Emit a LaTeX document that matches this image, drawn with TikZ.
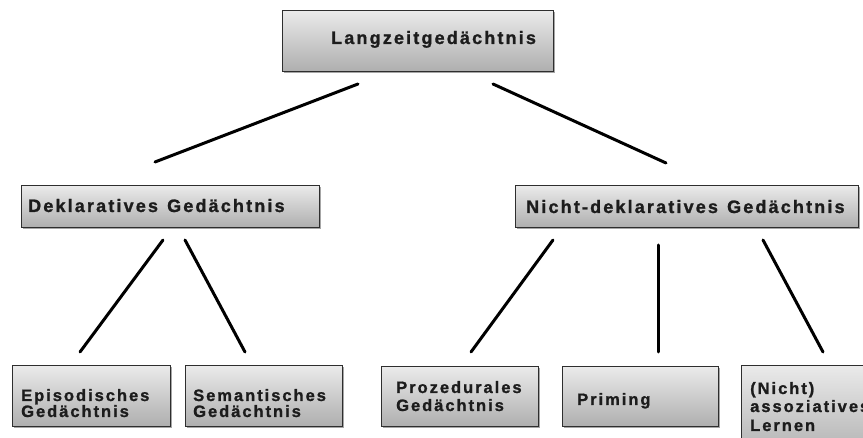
\documentclass[tikz,border=0pt]{standalone}
\usepackage{fontspec}
\newfontfamily\boxfont{Liberation Sans}[LetterSpace=12, FakeBold=1.2]
\usetikzlibrary{shadows}
\definecolor{boxtop}{HTML}{EAEAEA}
\definecolor{boxbot}{HTML}{AEAEAE}
\definecolor{boxline}{HTML}{2E2E2E}
\definecolor{ink}{HTML}{1C1C1C}
\tikzset{
  memorybox/.style={draw=boxline, line width=1.4pt, top color=boxtop, bottom color=boxbot,
    anchor=north west, inner sep=0pt,
    drop shadow={shadow xshift=1pt, shadow yshift=-1.5pt, opacity=0.35, fill=black}},
  bigtxt/.style={anchor=base west, inner sep=0pt, text=ink,
    font=\boxfont\bfseries\fontsize{18}{19}\selectfont},
  smalltxt/.style={anchor=base west, inner sep=0pt, text=ink,
    font=\boxfont\bfseries\fontsize{16.5}{17}\selectfont},
  branch/.style={draw=black, line width=3pt, line cap=round}
}
\begin{document}
\begin{tikzpicture}[x=1pt, y=-1pt]
  \useasboundingbox (0,0) rectangle (863,438);
  \clip (0,0) rectangle (863,438);

  % boxes: top level, second level, leaves
  \node[memorybox, minimum width=271pt, minimum height=61pt] (lzg)   at (282,10)  {};
  \node[memorybox, minimum width=298pt, minimum height=42pt] (dekl)  at (21,185)  {};
  \node[memorybox, minimum width=343pt, minimum height=42pt] (ndekl) at (515,185) {};
  \node[memorybox, minimum width=158pt, minimum height=61pt] (epi)   at (12,365)  {};
  \node[memorybox, minimum width=157pt, minimum height=61pt] (sem)   at (185,365) {};
  \node[memorybox, minimum width=157pt, minimum height=60pt] (proz)  at (381,366) {};
  \node[memorybox, minimum width=156pt, minimum height=60pt] (prim)  at (562,366) {};
  \node[memorybox, minimum width=160pt, minimum height=95pt] (assoz) at (741,365) {};

  % labels
  \node[bigtxt] (t-lzg)   at (331,44)  {Langzeitgedächtnis};
  \node[bigtxt] (t-dekl)  at (28,212)  {Deklaratives\hspace{2pt} Gedächtnis};
  \node[bigtxt] (t-ndekl) at (526,213) {Nicht-deklaratives\hspace{2pt} Gedächtnis};
  \node[smalltxt] (t-epi1)  at (21,401)  {Episodisches};
  \node[smalltxt] (t-epi2)  at (21,417)  {Gedächtnis};
  \node[smalltxt] (t-sem1)  at (193,401) {Semantisches};
  \node[smalltxt] (t-sem2)  at (193,417) {Gedächtnis};
  \node[smalltxt] (t-proz1) at (396,393) {Prozedurales};
  \node[smalltxt] (t-proz2) at (396,411) {Gedächtnis};
  \node[smalltxt] (t-prim)  at (577,405) {Priming};
  \node[smalltxt] (t-as1)   at (750,394) {(Nicht)};
  \node[smalltxt] (t-as2)   at (750,412) {assoziatives};
  \node[smalltxt] (t-as3)   at (750,431) {Lernen};

  % connector end points
  \coordinate (lzg-l)    at (358,84);
  \coordinate (lzg-r)    at (493,84);
  \coordinate (dekl-in)  at (155,162);
  \coordinate (ndekl-in) at (666,163);
  \coordinate (dekl-l)   at (163,240);
  \coordinate (dekl-r)   at (185,240);
  \coordinate (ndekl-l)  at (553,240);
  \coordinate (ndekl-m)  at (658,245);
  \coordinate (ndekl-r)  at (763,240);
  \coordinate (epi-in)   at (80,352);
  \coordinate (sem-in)   at (245,352);
  \coordinate (proz-in)  at (471,352);
  \coordinate (prim-in)  at (658,352);
  \coordinate (assoz-in) at (823,352);

  % connectors
  \draw[branch] (lzg-l) -- (dekl-in);
  \draw[branch] (lzg-r) -- (ndekl-in);
  \draw[branch] (dekl-l) -- (epi-in);
  \draw[branch] (dekl-r) -- (sem-in);
  \draw[branch] (ndekl-l) -- (proz-in);
  \draw[branch] (ndekl-m) -- (prim-in);
  \draw[branch] (ndekl-r) -- (assoz-in);
\end{tikzpicture}
\end{document}
